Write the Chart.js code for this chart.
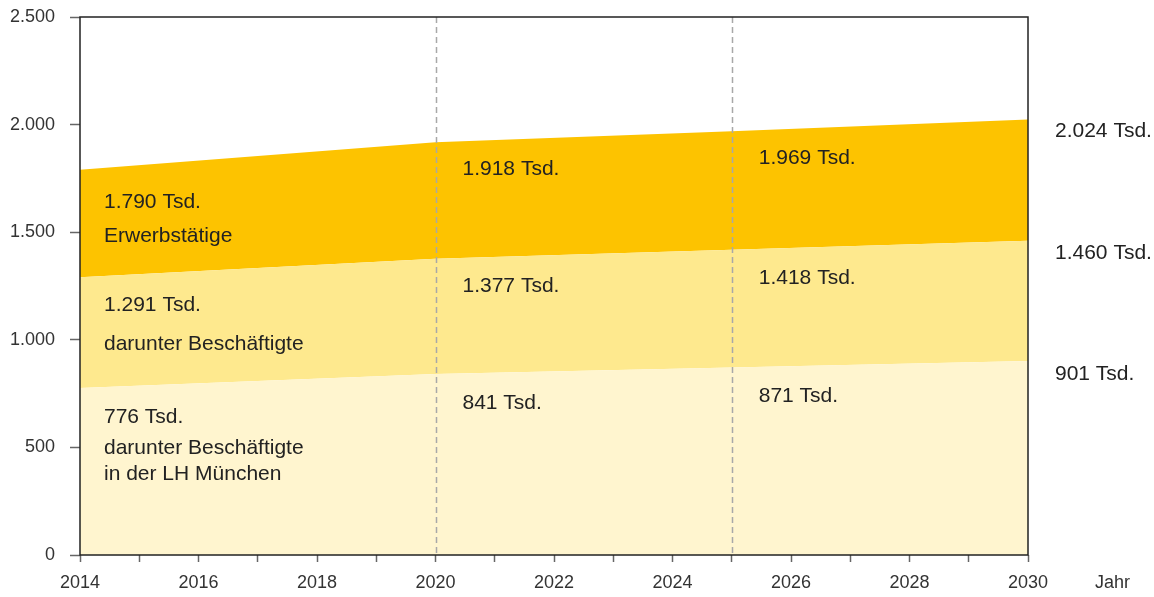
<!DOCTYPE html>
<html>
<head>
<meta charset="utf-8">
<script src="https://cdn.jsdelivr.net/npm/chart.js@4/dist/chart.umd.min.js"></script>
<style>
  html, body { margin: 0; padding: 0; background: #fff; }
  canvas { display: block; }
</style>
</head>
<body>
<canvas id="chart" width="1154" height="597"></canvas>
<script>
// data
const years = [2014, 2020, 2025, 2030];
const erwerbstaetige = [1790, 1918, 1969, 2024];
const beschaeftigte = [1291, 1377, 1418, 1460];
const beschaeftigteMuenchen = [776, 841, 871, 901];
const markedYears = [2020, 2025];
const seriesNames = [
    ['darunter Beschäftigte', 'in der LH München'],
    ['darunter Beschäftigte'],
    ['Erwerbstätige']
];
const FONT = '"Liberation Sans", Arial, sans-serif';

function formatDe(v) {
    return String(v).replace(/\B(?=(\d{3})+(?!\d))/g, '.');
}

function toPoints(values) {
    return years.map((x, i) => ({ x: x, y: values[i] }));
}

// dashed year lines, frame, value labels
const overlayPlugin = {
    id: 'overlay',
    afterDatasetsDraw(chart) {
        const ctx = chart.ctx;
        const xs = chart.scales.x;
        const area = chart.chartArea;
        ctx.save();
        ctx.strokeStyle = '#a8a8a8';
        ctx.lineWidth = 1.5;
        ctx.setLineDash([6, 4]);
        markedYears.forEach(yr => {
            const px = Math.round(xs.getPixelForValue(yr)) + 0.5;
            ctx.beginPath();
            ctx.moveTo(px, area.top);
            ctx.lineTo(px, area.bottom);
            ctx.stroke();
        });
        ctx.setLineDash([]);
        ctx.strokeStyle = '#222';
        ctx.lineWidth = 1.5;
        ctx.strokeRect(area.left, area.top, area.right - area.left, area.bottom - area.top);
        ctx.restore();
    },
    afterDraw(chart) {
        const ctx = chart.ctx;
        const xs = chart.scales.x;
        const ys = chart.scales.y;
        // label offsets below each point, per dataset
        const inner = [29, 28, 27];
        const outer = [13, 12, 12];
        ctx.save();
        ctx.fillStyle = '#222';
        ctx.font = '21px ' + FONT;
        ctx.textAlign = 'left';
        ctx.textBaseline = 'middle';
        chart.data.datasets.forEach((ds, di) => {
            ds.data.forEach((p, i) => {
                const last = i === ds.data.length - 1;
                let dy = last ? outer[di] : inner[di];
                if (i === 0 && di === 2) dy = 32;
                const px = xs.getPixelForValue(p.x) + (i === 0 ? 24 : 27);
                const py = ys.getPixelForValue(p.y) + dy;
                ctx.fillText(formatDe(p.y) + ' Tsd.', px, py);
                if (i === 0) {
                    const gaps = di === 0 ? [31, 57] : (di === 1 ? [39] : [34]);
                    seriesNames[di].forEach((line, li) => ctx.fillText(line, px, py + gaps[li]));
                }
            });
        });
        ctx.font = '18px ' + FONT;
        ctx.fillStyle = '#333';
        ctx.fillText('Jahr', 1095, 583);
        ctx.restore();
    }
};

const ctx = document.getElementById('chart').getContext('2d');
new Chart(ctx, {
    type: 'line',
    data: {
        datasets: [
            { label: 'darunter Beschäftigte in der LH München', data: toPoints(beschaeftigteMuenchen), fill: 'origin', backgroundColor: '#fff5cf' },
            { label: 'darunter Beschäftigte', data: toPoints(beschaeftigte), fill: '-1', backgroundColor: '#fee98e' },
            { label: 'Erwerbstätige', data: toPoints(erwerbstaetige), fill: '-1', backgroundColor: '#fdc300' }
        ].map(d => Object.assign(d, { borderWidth: 0, pointRadius: 0, tension: 0 }))
    },
    options: {
        responsive: false,
        animation: false,
        layout: { padding: { top: 17, right: 126, left: 0, bottom: 0 } },
        plugins: { legend: { display: false }, tooltip: { enabled: false } },
        scales: {
            x: {
                type: 'linear',
                min: 2014,
                max: 2030,
                afterFit: s => { s.height = 42; },
                border: { display: false },
                grid: { drawOnChartArea: false, tickLength: 7, tickColor: '#666', tickWidth: 1.5 },
                ticks: {
                    stepSize: 1,
                    autoSkip: false,
                    maxRotation: 0,
                    padding: 10,
                    color: '#333',
                    font: { family: FONT, size: 18 },
                    callback: v => (v % 2 === 0 ? String(v) : '')
                }
            },
            y: {
                min: 0,
                max: 2500,
                afterFit: s => { s.width = 80; s.paddingTop = 0; s.paddingBottom = 0; },
                border: { display: false },
                grid: { drawOnChartArea: false, tickLength: 10, tickColor: '#666', tickWidth: 1.5 },
                ticks: {
                    stepSize: 500,
                    padding: 15,
                    color: '#333',
                    font: { family: FONT, size: 18 },
                    callback: v => formatDe(v)
                }
            }
        }
    },
    plugins: [overlayPlugin]
});
</script>
</body>
</html>
